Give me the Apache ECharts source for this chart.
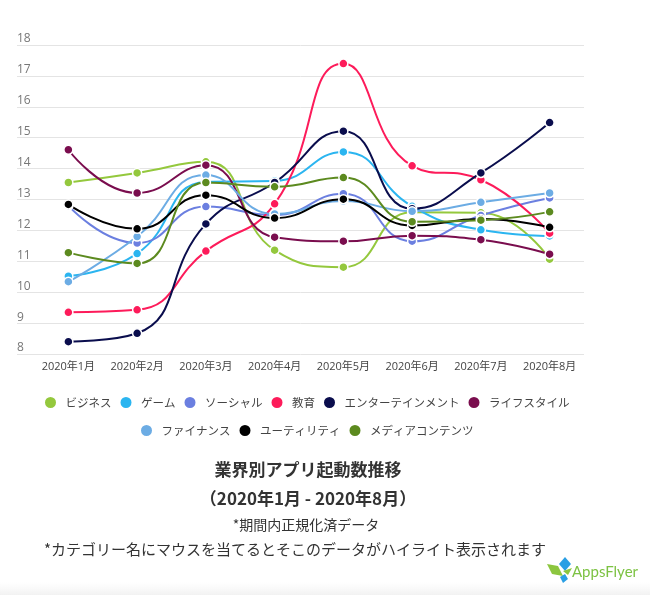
<!DOCTYPE html>
<html>
<head>
<meta charset="utf-8">
<script src="https://cdn.jsdelivr.net/npm/echarts@6/dist/echarts.min.js"></script>
<style>
html,body{margin:0;padding:0;background:#fff;}
#chart{width:650px;height:595px;}
</style>
</head>
<body>
<div id="chart"></div>
<script>
const categories = ['2020年1月','2020年2月','2020年3月','2020年4月','2020年5月','2020年6月','2020年7月','2020年8月'];
const yTicks = [8, 18, 1];

const seriesNames = ['ビジネス','ゲーム','ソーシャル','教育','エンターテインメント','ライフスタイル','ファイナンス','ユーティリティ','メディアコンテンツ'];
const business      = [13.55, 13.86, 14.22, 11.36, 10.81, 12.59, 12.57, 11.07];
const game          = [10.52, 11.25, 13.57, 13.60, 14.54, 12.78, 12.02, 11.82];
const social        = [12.80, 11.59, 12.77, 12.50, 13.19, 11.65, 12.48, 13.05];
const education     = [9.35, 9.43, 11.33, 12.86, 17.40, 14.09, 13.64, 11.91];
const entertainment = [8.40, 8.67, 12.21, 13.55, 15.21, 12.70, 13.86, 15.49];
const lifestyle     = [14.61, 13.21, 14.11, 11.78, 11.65, 11.83, 11.70, 11.23];
const finance       = [10.34, 11.80, 13.79, 12.53, 12.95, 12.62, 12.91, 13.21];
const utility       = [12.84, 12.05, 13.14, 12.40, 13.01, 12.16, 12.37, 12.10];
const media         = [11.28, 10.93, 13.55, 13.41, 13.71, 12.28, 12.33, 12.60];
const seriesValues = [business, game, social, education, entertainment, lifestyle, finance, utility, media];

const colors = ['#94c83d','#2bb5f0','#6b7fe0','#fd1b5a','#0a0d4d','#7a0d4e','#6cace4','#000000','#5c8a1f'];

const titleLines = ['業界別アプリ起動数推移','（2020年1月 - 2020年8月）','*期間内正規化済データ','*カテゴリー名にマウスを当てるとそこのデータがハイライト表示されます'];

const jpFont = '"Noto Sans CJK JP", "Noto Sans", sans-serif';
const numFont = '"Open Sans", "Noto Sans CJK JP", sans-serif';

const chart = echarts.init(document.getElementById('chart'), null, {renderer:'canvas'});

const series = seriesNames.map((name, i) => ({
  name: name,
  type: 'line',
  xAxisIndex: 0,
  yAxisIndex: 0,
  data: seriesValues[i],
  smooth: 0.5,
  symbol: 'circle',
  symbolSize: 9,
  showSymbol: true,
  color: colors[i],
  lineStyle: {width: 2, color: colors[i]},
  itemStyle: {color: colors[i], borderColor: '#fff', borderWidth: 1.5},
  emphasis: {disabled: true}
}));

const legendCommon = {
  orient: 'horizontal',
  icon: 'circle',
  itemWidth: 20,
  itemHeight: 13,
  itemGap: 7,
  textStyle: {fontSize: 11.5, color: '#444', fontFamily: jpFont}
};

chart.setOption({
  backgroundColor: '#ffffff',
  animation: false,
  grid: [
    {left: 34, right: 66, top: 45, bottom: 241},
    {left: 17, right: 66, top: 45, bottom: 241}
  ],
  xAxis: [
    {
      type: 'category', gridIndex: 0, data: categories, boundaryGap: true,
      axisLine: {show: false}, axisTick: {show: false},
      axisLabel: {interval: 0, margin: 7, fontSize: 11, color: '#444', fontFamily: numFont}
    },
    {type: 'value', gridIndex: 1, show: false, min: 0, max: 1}
  ],
  yAxis: [
    {
      type: 'value', gridIndex: 0, min: yTicks[0], max: yTicks[1], interval: yTicks[2],
      show: false, splitLine: {show: false}
    },
    {
      type: 'value', gridIndex: 1, min: yTicks[0], max: yTicks[1], interval: yTicks[2],
      axisLine: {show: false}, axisTick: {show: false},
      splitLine: {show: true, lineStyle: {color: '#e4e4e4', width: 1}},
      axisLabel: {inside: true, margin: 0, align: 'left', verticalAlign: 'bottom', padding: [0,0,0,0],
        fontSize: 12, color: '#777', fontFamily: numFont}
    }
  ],
  legend: [
    Object.assign({}, legendCommon, {data: seriesNames.slice(0, 6), left: 38, top: 390}),
    Object.assign({}, legendCommon, {data: seriesNames.slice(6), left: 134, top: 418})
  ],
  series: series,
  graphic: [
    {type: 'rect', shape: {x: 0, y: 582, width: 650, height: 13}, silent: true,
      style: {fill: new echarts.graphic.LinearGradient(0, 0, 0, 1, [{offset: 0, color: 'rgba(245,245,245,0)'}, {offset: 1, color: 'rgba(242,242,242,1)'}])}},
    {type: 'text', style: {text: titleLines[0], x: 308, y: 470, align: 'center', verticalAlign: 'middle',
      font: 'bold 17px ' + jpFont, fill: '#333'}},
    {type: 'text', style: {text: titleLines[1], x: 308, y: 499, align: 'center', verticalAlign: 'middle',
      font: 'bold 17px ' + jpFont, fill: '#333'}},
    {type: 'text', style: {text: titleLines[2], x: 306, y: 525, align: 'center', verticalAlign: 'middle',
      font: '14px ' + jpFont, fill: '#333'}},
    {type: 'text', style: {text: titleLines[3], x: 295, y: 549, align: 'center', verticalAlign: 'middle',
      font: '15px ' + jpFont, fill: '#333'}},
    {type: 'polygon', shape: {points: [[565,557],[571,564],[565,571],[559,564]]}, style: {fill: '#2a9fe4'}},
    {type: 'polygon', shape: {points: [[547,564],[558,566],[563,576],[552,574]]}, style: {fill: '#8cc63f'}},
    {type: 'polygon', shape: {points: [[560,577],[565,574],[568,579],[563,583]]}, style: {fill: '#2a9fe4'}},
    {type: 'polygon', shape: {points: [[563,571],[572,568],[568,575]]}, style: {fill: '#8cc63f'}},
    {type: 'text', style: {text: 'AppsFlyer', x: 572, y: 572, align: 'left', verticalAlign: 'middle',
      font: '15px Lato, sans-serif', fill: '#7cc242'}}
  ]
});
</script>
</body>
</html>
